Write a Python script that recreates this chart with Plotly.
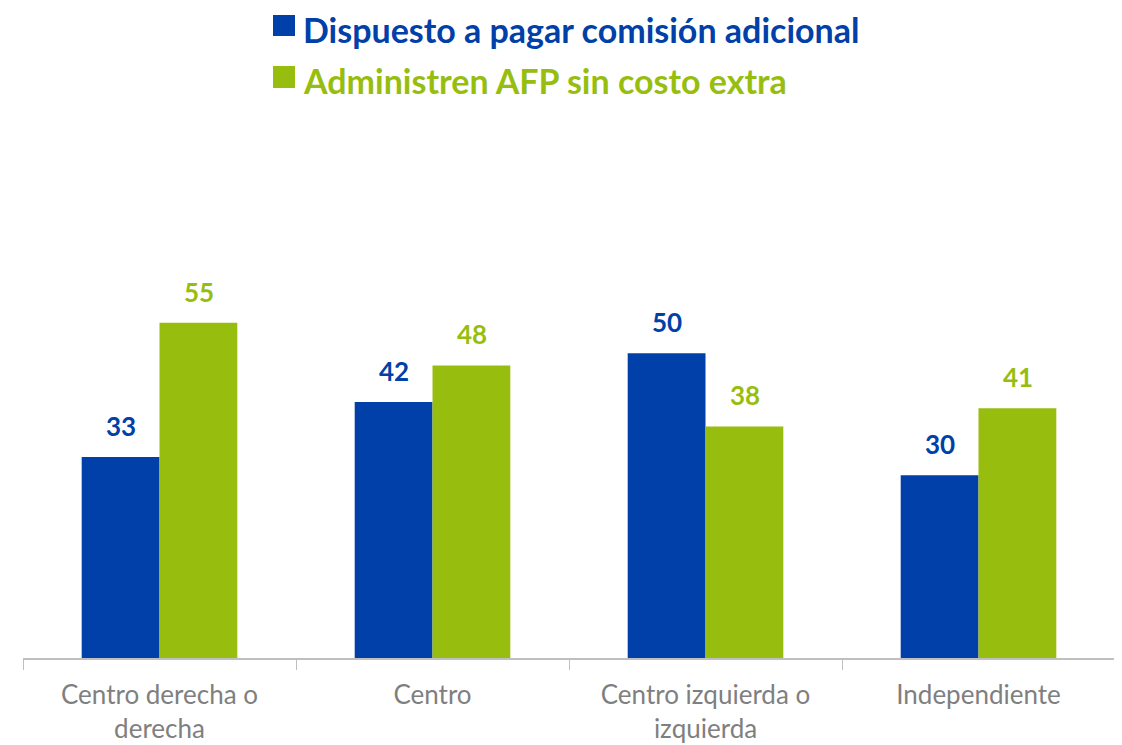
import plotly.graph_objects as go

categories = ["Centro derecha o<br>derecha", "Centro", "Centro izquierda o<br>izquierda", "Independiente"]
dispuesto = [33, 42, 50, 30]
administren = [55, 48, 38, 41]
series_names = ["Dispuesto a pagar comisión adicional", "Administren AFP sin costo extra"]

BLUE = "#0040A8"
GREEN = "#97BE0E"
FONT = "Lato, 'Open Sans', sans-serif"

OFF = 8  # page body margin in the browser
W, H = 1122 - OFF, 745 - OFF
L, R, T, B = 23 - OFF, 7, 140 - OFF, 87
PW, PH = W - L - R, H - T - B


def px(xp):
    return (xp - OFF - L) / PW


def py(yp):
    return (H - B - (yp - OFF)) / PH


fig = go.Figure()
fig.add_trace(go.Bar(x=categories, y=dispuesto, marker_color=BLUE, marker_line_width=0,
                     name=series_names[0]))
fig.add_trace(go.Bar(x=categories, y=administren, marker_color=GREEN, marker_line_width=0,
                     name=series_names[1]))

for vals, col, shift in [(dispuesto, BLUE, -39), (administren, GREEN, 39)]:
    for c, v in zip(categories, vals):
        fig.add_annotation(x=c, y=v, xref="x", yref="y", text=f"<b>{v}</b>",
                           showarrow=False, xshift=shift, yanchor="bottom", yshift=13,
                           font=dict(family=FONT, size=26, color=col))

# manual legend (large squares like the reference)
for name, col, ytop, ybot, ytxt in [(series_names[0], BLUE, 15, 36, 8),
                                    (series_names[1], GREEN, 66, 88, 59)]:
    fig.add_shape(type="rect", xref="paper", yref="paper",
                  x0=px(273), x1=px(295), y0=py(ybot), y1=py(ytop),
                  fillcolor=col, line_width=0)
    fig.add_annotation(xref="paper", yref="paper", x=px(302), y=py(ytxt),
                       xanchor="left", yanchor="top", showarrow=False, borderpad=0,
                       text=f"<b>{name}</b>", font=dict(family=FONT, size=34, color=col))

fig.update_layout(
    width=W, height=H,
    margin=dict(l=L, r=R, t=T, b=B),
    paper_bgcolor="white", plot_bgcolor="white",
    barmode="group", bargap=0.43, bargroupgap=0,
    font=dict(family=FONT),
    showlegend=False,
    xaxis=dict(showline=True, linecolor="#BFBFBF", linewidth=1.5, automargin=False,
               ticks="outside", tickson="boundaries", ticklen=10, tickcolor="#BFBFBF",
               ticklabelstandoff=13,
               tickfont=dict(size=26, color="#7F7F7F", family=FONT), showgrid=False),
    yaxis=dict(range=[0, 85], visible=False, showgrid=False, automargin=False),
)

fig.write_html("out.html")
